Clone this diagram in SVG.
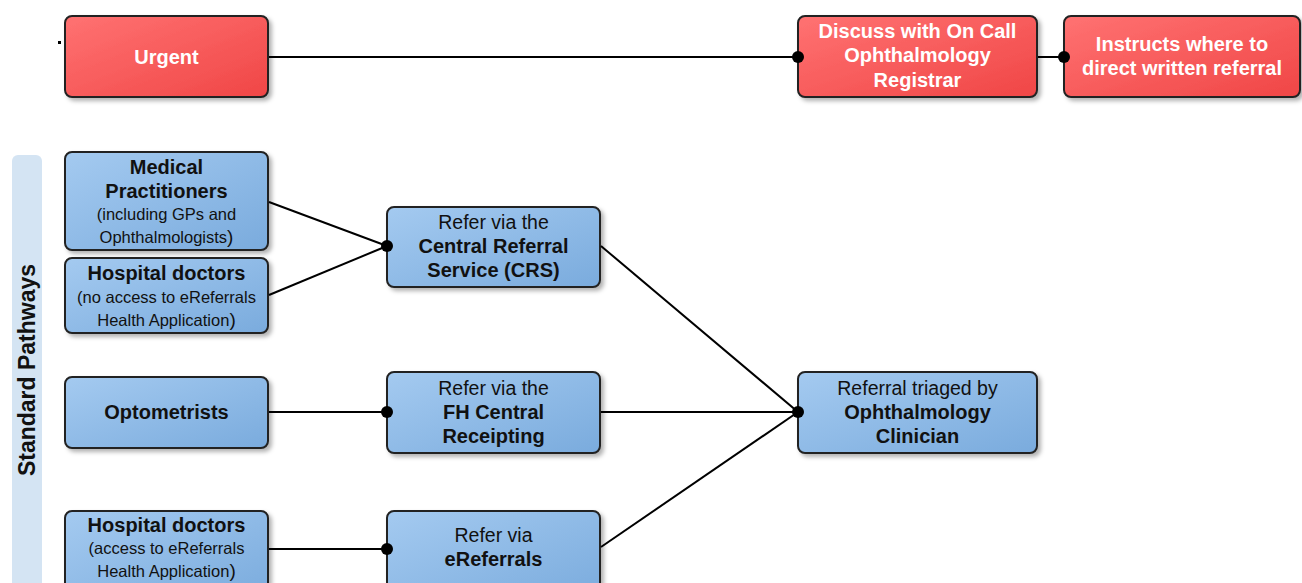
<svg xmlns="http://www.w3.org/2000/svg" width="1302" height="583" viewBox="0 0 1302 583">
<defs>
<linearGradient id="gRed" x1="0" y1="0" x2="1" y2="1">
<stop offset="0" stop-color="#ff7272"/>
<stop offset="1" stop-color="#f04646"/>
</linearGradient>
<linearGradient id="gBlue" x1="0" y1="0" x2="1" y2="1">
<stop offset="0" stop-color="#a4caf0"/>
<stop offset="1" stop-color="#7aabdd"/>
</linearGradient>
<filter id="sh" x="-10%" y="-10%" width="130%" height="140%">
<feDropShadow dx="3" dy="3" stdDeviation="2" flood-color="#000" flood-opacity="0.3"/>
</filter>
</defs>
<style>
.red{fill:url(#gRed);stroke:#222;stroke-width:2;filter:url(#sh)}
.blue{fill:url(#gBlue);stroke:#222;stroke-width:2;filter:url(#sh)}
text{font-family:"Liberation Sans",Arial,sans-serif;text-anchor:middle}
.w{fill:#fff;font-weight:bold;font-size:20px}
.b{fill:#111;font-weight:bold;font-size:20px}
.r{fill:#111;font-size:19.5px}
.s{fill:#111;font-size:16.5px}
.p{font-size:19px}
.ln{stroke:#000;stroke-width:2;fill:none}
.dot{fill:#000}
</style>
<rect x="58" y="41" width="3" height="3" fill="#000"/>
<g id="band">
<rect x="12" y="155" width="30" height="440" rx="6" fill="#d4e4f3"/>
<text x="35" y="370" transform="rotate(-90 35 370)" style="font-weight:bold;font-size:23px;fill:#111">Standard Pathways</text>
</g>
<g id="urgent">
<rect class="red" x="65" y="16" width="203" height="81" rx="7"/>
<text class="w" x="166.5" y="64">Urgent</text>
</g>
<g id="discuss">
<rect class="red" x="798" y="16" width="239" height="81" rx="7"/>
<text class="w" x="917.5" y="38">Discuss with On Call</text>
<text class="w" x="917.5" y="62">Ophthalmology</text>
<text class="w" x="917.5" y="87">Registrar</text>
</g>
<g id="instructs">
<rect class="red" x="1064" y="16" width="236" height="81" rx="7"/>
<text class="w" x="1182" y="51">Instructs where to</text>
<text class="w" x="1182" y="75">direct written referral</text>
</g>
<g id="medical">
<rect class="blue" x="65" y="152" width="203" height="98" rx="7"/>
<text class="b" x="166.5" y="174">Medical</text>
<text class="b" x="166.5" y="198">Practitioners</text>
<text class="s" x="166.5" y="220">(including GPs and</text>
<text class="s" x="166.5" y="243">Ophthalmologists<tspan class="p">)</tspan></text>
</g>
<g id="hospital1">
<rect class="blue" x="65" y="258" width="203" height="75" rx="7"/>
<text class="b" x="166.5" y="280">Hospital doctors</text>
<text class="s" x="166.5" y="303">(no access to eReferrals</text>
<text class="s" x="166.5" y="326">Health Application<tspan class="p">)</tspan></text>
</g>
<g id="optometrists">
<rect class="blue" x="65" y="377" width="203" height="71" rx="7"/>
<text class="b" x="166.5" y="419">Optometrists</text>
</g>
<g id="hospital2">
<rect class="blue" x="65" y="511" width="203" height="90" rx="7"/>
<text class="b" x="166.5" y="532">Hospital doctors</text>
<text class="s" x="166.5" y="554">(access to eReferrals</text>
<text class="s" x="166.5" y="577">Health Application<tspan class="p">)</tspan></text>
</g>
<g id="crs">
<rect class="blue" x="387" y="207" width="213" height="80" rx="7"/>
<text class="r" x="493.5" y="229">Refer via the</text>
<text class="b" x="493.5" y="253">Central Referral</text>
<text class="b" x="493.5" y="277">Service (CRS)</text>
</g>
<g id="fh">
<rect class="blue" x="387" y="372" width="213" height="81" rx="7"/>
<text class="r" x="493.5" y="395">Refer via the</text>
<text class="b" x="493.5" y="419">FH Central</text>
<text class="b" x="493.5" y="443">Receipting</text>
</g>
<g id="ereferrals">
<rect class="blue" x="387" y="511" width="213" height="90" rx="7"/>
<text class="r" x="493.5" y="542">Refer via</text>
<text class="b" x="493.5" y="566">eReferrals</text>
</g>
<g id="triage">
<rect class="blue" x="798" y="372" width="239" height="81" rx="7"/>
<text class="r" x="917.5" y="395">Referral triaged by</text>
<text class="b" x="917.5" y="419">Ophthalmology</text>
<text class="b" x="917.5" y="443">Clinician</text>
</g>
<g id="connectors">
<line class="ln" x1="269" y1="57" x2="798" y2="57"/>
<circle class="dot" cx="798" cy="57" r="6"/>
<line class="ln" x1="1038" y1="57" x2="1064" y2="57"/>
<circle class="dot" cx="1064" cy="57" r="6"/>
<line class="ln" x1="269" y1="202" x2="387" y2="246"/>
<line class="ln" x1="269" y1="295" x2="387" y2="246"/>
<circle class="dot" cx="387" cy="246" r="6"/>
<line class="ln" x1="269" y1="412" x2="387" y2="412"/>
<circle class="dot" cx="387" cy="412" r="6"/>
<line class="ln" x1="269" y1="549" x2="387" y2="549"/>
<circle class="dot" cx="387" cy="549" r="6"/>
<line class="ln" x1="601" y1="246" x2="798" y2="412"/>
<line class="ln" x1="601" y1="412" x2="798" y2="412"/>
<line class="ln" x1="601" y1="547" x2="798" y2="412"/>
<circle class="dot" cx="798" cy="412" r="6"/>
</g>
</svg>
